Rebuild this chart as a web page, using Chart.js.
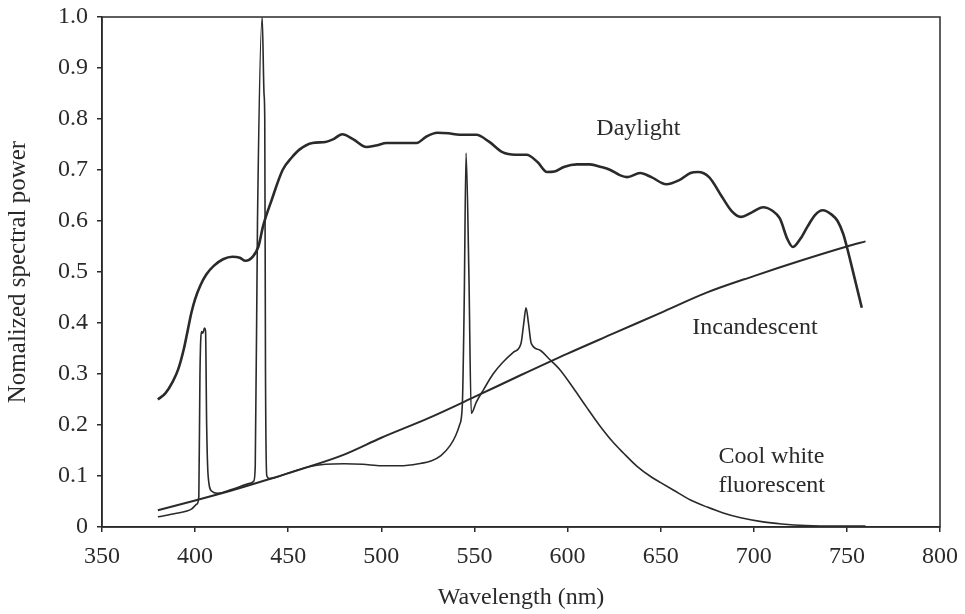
<!DOCTYPE html>
<html>
<head>
<meta charset="utf-8">
<script src="https://cdn.jsdelivr.net/npm/chart.js@4/dist/chart.umd.min.js"></script>
<style>
  html, body { margin: 0; padding: 0; background: #fff; }
  #wrap { width: 965px; height: 614px; }
</style>
</head>
<body>
<div id="wrap"><canvas id="spectrumChart" width="965" height="614"></canvas></div>
<script>
// wavelengths (nm) and normalized power
var daylightNm = [380, 384, 388, 391, 394, 396, 398, 400, 403, 406, 410, 415, 420, 424, 427, 431, 434, 436.5, 441, 447,
    452, 456, 463, 470, 474, 479, 485, 492, 497, 503, 512, 519, 524, 530, 536, 542, 551, 558, 565, 572,
    578, 584, 589, 593, 598, 605, 612, 618, 623, 628, 632, 639, 645, 653, 660, 666, 670, 676, 683, 688,
    693, 699, 705, 710, 714, 718, 721, 725, 729, 733, 737, 742, 745, 748, 750, 754, 758];
var daylightPower = [0.25, 0.262, 0.285, 0.31, 0.35, 0.385, 0.42, 0.447, 0.475, 0.495, 0.512, 0.525, 0.53, 0.528, 0.522, 0.53, 0.55, 0.59, 0.64, 0.70,
    0.725, 0.74, 0.753, 0.755, 0.76, 0.77, 0.76, 0.745, 0.748, 0.753, 0.753, 0.753, 0.765, 0.773, 0.772, 0.769, 0.769, 0.755, 0.735, 0.73,
    0.73, 0.715, 0.696, 0.697, 0.706, 0.711, 0.711, 0.706, 0.70, 0.69, 0.686, 0.694, 0.686, 0.672, 0.68, 0.694, 0.696, 0.686, 0.647, 0.62,
    0.608, 0.617, 0.627, 0.62, 0.605, 0.565, 0.549, 0.565, 0.59, 0.612, 0.621, 0.612, 0.60, 0.575, 0.549, 0.49, 0.43];

var incandescentNm = [380, 400, 420, 440, 460, 480, 500, 525, 550, 575, 600, 625, 650, 675, 700, 725, 750, 760];
var incandescentPower = [0.033, 0.052, 0.072, 0.094, 0.117, 0.142, 0.175, 0.213, 0.255, 0.298, 0.34, 0.38, 0.42, 0.46, 0.492, 0.522, 0.55, 0.56];

var fluorescentNm = [380, 390, 398, 401, 402, 402.6, 403.5, 404.2, 405, 405.6, 406.2, 407, 409, 412, 420, 430, 431.5, 432.3, 433.5, 436,
    437, 437.4, 437.8, 438.5, 440, 450, 460, 470, 480, 490, 500, 510, 520, 527, 532, 537, 540, 542, 543.5, 544.5,
    545.5, 547, 548.3, 551, 555, 560, 565, 571, 575, 576.5, 577.7, 579, 580.5, 585, 590, 596, 603, 610, 617, 624,
    630, 637, 645, 650, 657, 666, 675, 684, 693, 705, 715, 728, 745, 760];
var fluorescentPower = [0.02, 0.027, 0.035, 0.045, 0.06, 0.3, 0.383, 0.38, 0.39, 0.385, 0.2, 0.1, 0.07, 0.066, 0.074, 0.086, 0.09, 0.12, 0.6, 1.0,
    0.85, 0.8, 0.3, 0.1, 0.095, 0.106, 0.117, 0.123, 0.124, 0.123, 0.12, 0.12, 0.124, 0.13, 0.14, 0.16, 0.18, 0.2, 0.24, 0.44,
    0.733, 0.5, 0.223, 0.245, 0.27, 0.3, 0.322, 0.343, 0.36, 0.4, 0.43, 0.4, 0.36, 0.347, 0.33, 0.308, 0.273, 0.236, 0.2, 0.168,
    0.145, 0.12, 0.098, 0.087, 0.072, 0.053, 0.039, 0.027, 0.018, 0.01, 0.006, 0.003, 0.002, 0.002];

var xTicks = [350, 400, 450, 500, 550, 600, 650, 700, 750, 800];
var yTicks = [0, 0.1, 0.2, 0.3, 0.4, 0.5, 0.6, 0.7, 0.8, 0.9, 1.0];

// curve labels, placed in data units
var curveLabels = [
    { text: "Daylight", x: 638, y: 0.781, align: "center" },
    { text: "Incandescent", x: 667, y: 0.39, align: "left" },
    { text: "Cool white", x: 681, y: 0.138, align: "left" },
    { text: "fluorescent", x: 681, y: 0.08, align: "left" }
];

var ink = "#2a2a2a";
var serif = "'Liberation Serif', 'Times New Roman', serif";

function toPoints(xs, ys) {
    var pts = [];
    for (var i = 0; i < xs.length; i++) pts.push({ x: xs[i], y: ys[i] });
    return pts;
}

// box round the plot + curve labels
var framePlugin = {
    id: "frame",
    afterDatasetsDraw: function (chart) {
        var ctx = chart.ctx, a = chart.chartArea;
        ctx.save();
        ctx.strokeStyle = ink;
        ctx.lineWidth = 1.5;
        ctx.strokeRect(a.left, a.top, a.right - a.left, a.bottom - a.top);
        ctx.fillStyle = ink;
        ctx.font = "24px " + serif;
        ctx.textBaseline = "middle";
        curveLabels.forEach(function (l) {
            ctx.textAlign = l.align;
            ctx.fillText(l.text, chart.scales.x.getPixelForValue(l.x), chart.scales.y.getPixelForValue(l.y));
        });
        ctx.restore();
    }
};

var ctx = document.getElementById("spectrumChart").getContext("2d");
var spectrumChart = new Chart(ctx, {
    type: "line",
    data: {
        datasets: [
            { label: "Daylight", data: toPoints(daylightNm, daylightPower), borderColor: ink, borderWidth: 2.6, cubicInterpolationMode: "monotone" },
            { label: "Incandescent", data: toPoints(incandescentNm, incandescentPower), borderColor: ink, borderWidth: 2, cubicInterpolationMode: "monotone" },
            { label: "Cool white fluorescent", data: toPoints(fluorescentNm, fluorescentPower), borderColor: ink, borderWidth: 1.6, cubicInterpolationMode: "monotone" }
        ]
    },
    options: {
        responsive: false,
        animation: false,
        events: [],
        elements: { point: { radius: 0 } },
        layout: { padding: { top: 17, right: 25, left: 0, bottom: 0 } },
        plugins: { legend: { display: false }, tooltip: { enabled: false } },
        scales: {
            x: {
                type: "linear",
                min: 350,
                max: 800,
                afterFit: function (s) { s.height = 87; s.paddingLeft = 0; s.paddingRight = 0; },
                afterBuildTicks: function (s) { s.ticks = xTicks.map(function (v) { return { value: v }; }); },
                grid: { drawOnChartArea: false, drawTicks: true, tickLength: 5, color: ink, lineWidth: 1.5 },
                border: { display: true, color: ink, width: 1.5 },
                ticks: { color: ink, padding: 10, font: { family: serif, size: 24 } },
                title: { display: true, text: "Wavelength (nm)", color: ink, padding: { top: 4, bottom: 2 }, font: { family: serif, size: 24 } }
            },
            y: {
                min: 0,
                max: 1,
                afterFit: function (s) { s.width = 102; s.paddingTop = 0; s.paddingBottom = 0; },
                afterBuildTicks: function (s) { s.ticks = yTicks.map(function (v) { return { value: v }; }); },
                grid: { drawOnChartArea: false, drawTicks: true, tickLength: 5, color: ink, lineWidth: 1.5 },
                border: { display: true, color: ink, width: 1.5 },
                ticks: {
                    color: ink,
                    padding: 9,
                    font: { family: serif, size: 24 },
                    callback: function (v) { return v === 0 ? "0" : v.toFixed(1); }
                },
                title: { display: true, text: "Nomalized spectral power", color: ink, padding: { top: 3, bottom: 4 }, font: { family: serif, size: 25 } }
            }
        }
    },
    plugins: [framePlugin]
});
</script>
</body>
</html>
